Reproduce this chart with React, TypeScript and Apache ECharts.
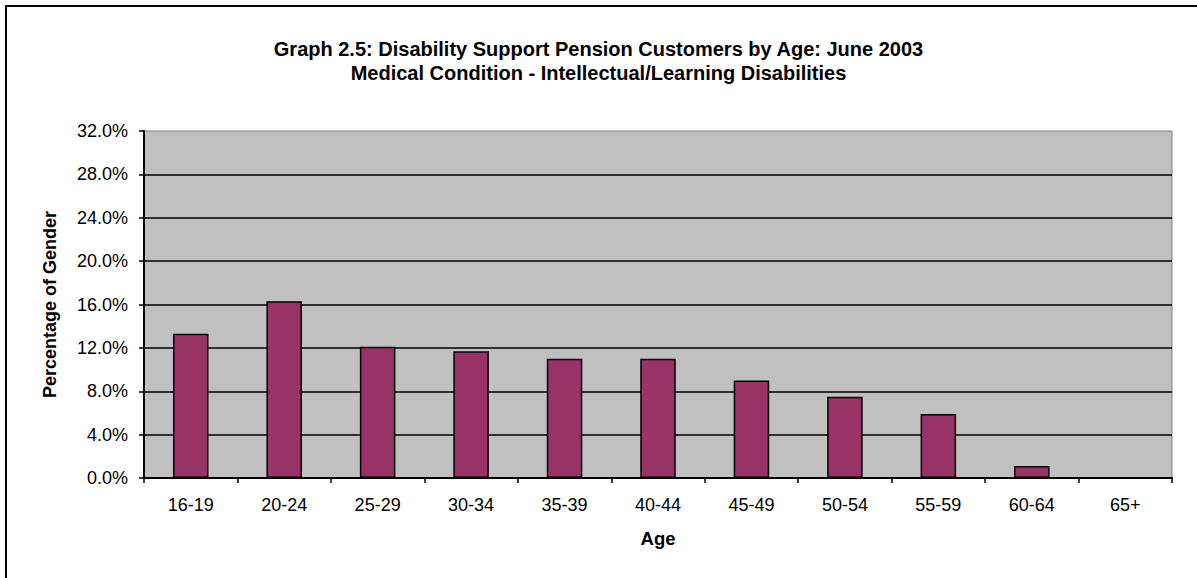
import React, { useEffect, useRef } from "react";
import * as echarts from "echarts";

const categories = ["16-19", "20-24", "25-29", "30-34", "35-39", "40-44", "45-49", "50-54", "55-59", "60-64", "65+"];
const values = [13.3, 16.3, 12.1, 11.7, 11.0, 11.0, 9.0, 7.5, 5.9, 1.1, 0];
const titleLines = [
  "Graph 2.5: Disability Support Pension Customers by Age: June 2003",
  "Medical Condition - Intellectual/Learning Disabilities",
];
const yAxisName = "Percentage of Gender";
const xAxisName = "Age";

const FONT = "'Liberation Sans', Arial, sans-serif";

export default function App() {
  const ref = useRef<HTMLDivElement>(null);
  useEffect(() => {
    if (!ref.current) return;
    const chart = echarts.init(ref.current, null, { renderer: "svg" });
    chart.setOption({
      animation: false,
      backgroundColor: "#ffffff",
      textStyle: { fontFamily: FONT },
      title: {
        text: titleLines.join("\n"),
        left: "center",
        top: 32,
        textStyle: {
          fontFamily: FONT,
          fontWeight: "bold",
          fontSize: 20,
          lineHeight: 24,
          color: "#000",
        },
      },
      graphic: [
        {
          type: "rect",
          shape: { x: 6, y: 6, width: 1250, height: 650 },
          style: { fill: "none", stroke: "#000", lineWidth: 2 },
          silent: true,
        },
      ],
      grid: {
        left: 144,
        top: 131,
        right: 25,
        bottom: 100,
        show: true,
        backgroundColor: "#C0C0C0",
        borderColor: "#808080",
        borderWidth: 1,
      },
      xAxis: {
        type: "category",
        data: categories,
        name: xAxisName,
        nameLocation: "middle",
        nameGap: 51,
        nameTextStyle: { fontFamily: FONT, fontWeight: "bold", fontSize: 18.5, color: "#000" },
        axisLine: { show: true, lineStyle: { color: "#000", width: 2 } },
        axisTick: { show: true, alignWithLabel: false, length: 5, lineStyle: { color: "#000", width: 1.5 } },
        axisLabel: { fontFamily: FONT, fontSize: 18, color: "#000", margin: 18, interval: 0 },
        splitLine: { show: false },
      },
      yAxis: {
        type: "value",
        min: 0,
        max: 32,
        interval: 4,
        name: yAxisName,
        nameLocation: "middle",
        nameGap: 85,
        nameRotate: 90,
        nameTextStyle: { fontFamily: FONT, fontWeight: "bold", fontSize: 18, color: "#000" },
        axisLine: { show: true, lineStyle: { color: "#000", width: 2 } },
        axisTick: { show: true, length: 5, lineStyle: { color: "#000", width: 1.5 } },
        axisLabel: {
          fontFamily: FONT,
          fontSize: 18,
          color: "#000",
          margin: 16,
          formatter: (v: number) => v.toFixed(1) + "%",
        },
        splitLine: { show: true, showMaxLine: false, showMinLine: false, lineStyle: { color: "#000", width: 1.5 } },
      },
      series: [
        {
          type: "bar",
          data: values,
          barWidth: "38%",
          itemStyle: { color: "#993366", borderColor: "#000", borderWidth: 1.5 },
        },
      ],
    });
    return () => chart.dispose();
  }, []);
  return (
    <div
      ref={ref}
      style={{ position: "fixed", left: 0, top: 0, width: 1197, height: 578 }}
    />
  );
}
